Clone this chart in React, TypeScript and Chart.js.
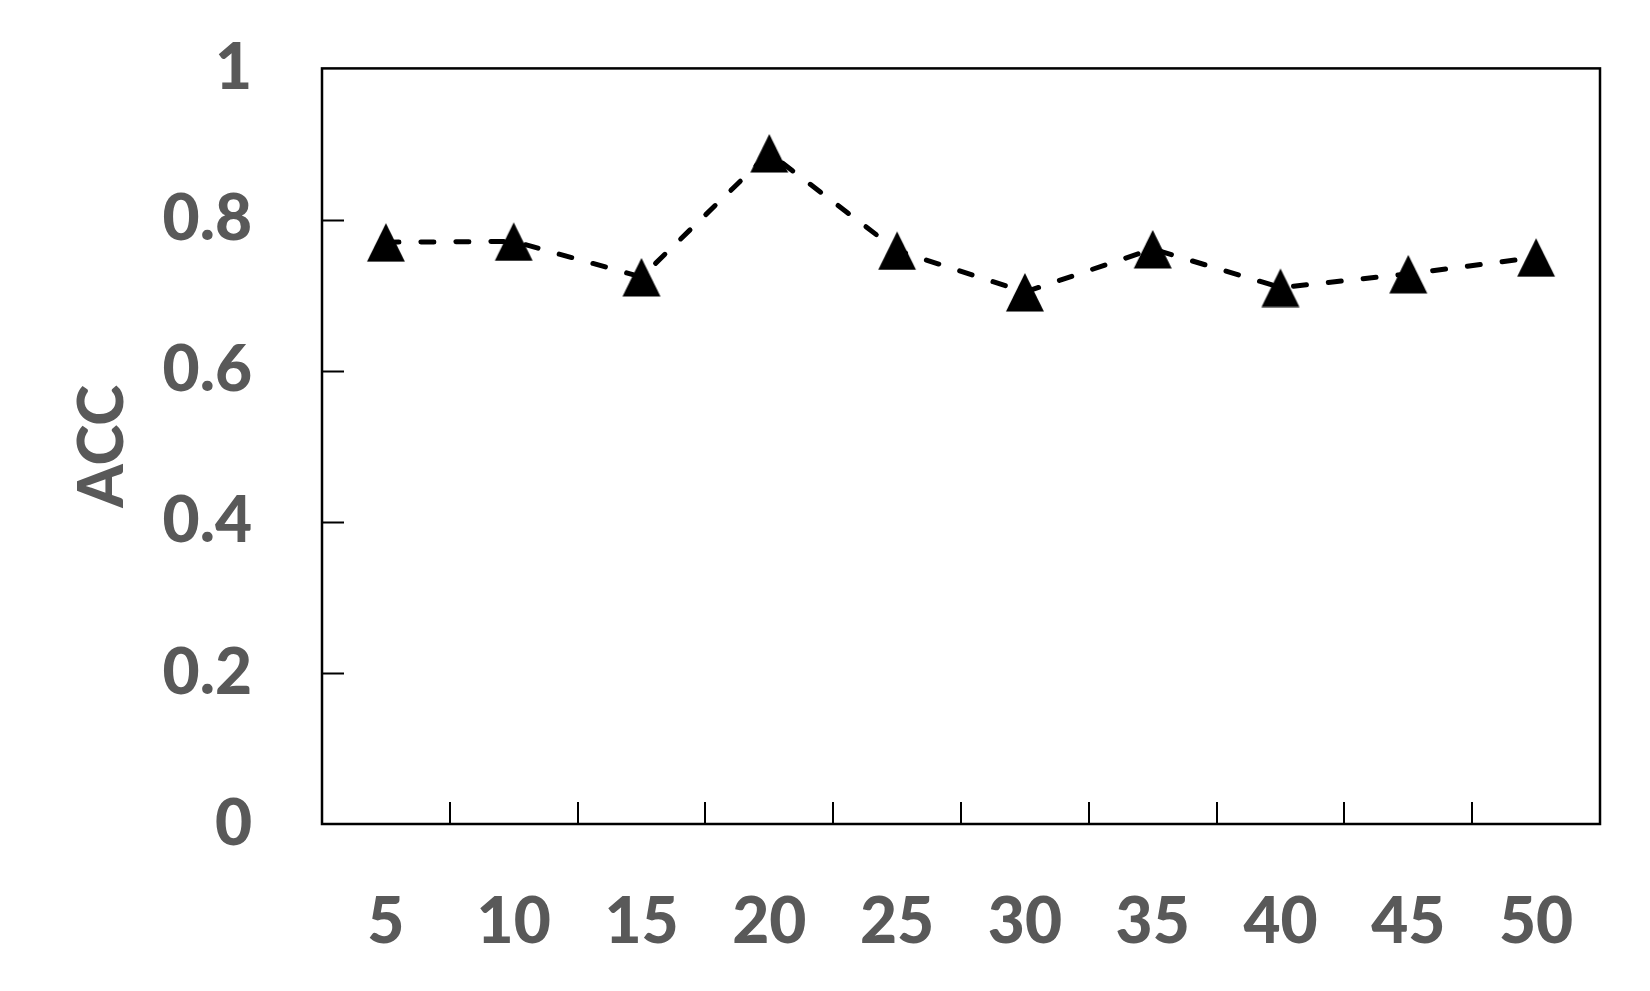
import React, { useEffect, useRef } from "react";
import { Chart, registerables } from "chart.js";

Chart.register(...registerables);

const categories = ["5", "10", "15", "20", "25", "30", "35", "40", "45", "50"];
const accValues = [0.77, 0.771, 0.724, 0.888, 0.759, 0.704, 0.761, 0.71, 0.728, 0.75];
const yTickValues = [0, 0.2, 0.4, 0.6, 0.8, 1];
const innerYTicks = [0.2, 0.4, 0.6, 0.8];

const LABEL_COLOR = "#595959";
const FONT_FAMILY = "Lato, 'Open Sans', sans-serif";

function makeTriangle(): HTMLCanvasElement {
  const c = document.createElement("canvas");
  c.width = 40;
  c.height = 40;
  const ctx = c.getContext("2d")!;
  ctx.fillStyle = "#000";
  ctx.beginPath();
  ctx.moveTo(20, 1);
  ctx.lineTo(39, 39.5);
  ctx.lineTo(1, 39.5);
  ctx.closePath();
  ctx.fill();
  return c;
}

const framePlugin = {
  id: "framePlugin",
  beforeDatasetsDraw(chart: any) {
    const { ctx, chartArea } = chart;
    const xs = chart.scales.x;
    const ys = chart.scales.y;
    ctx.save();
    ctx.strokeStyle = "#000";
    ctx.lineWidth = 2.5;
    ctx.strokeRect(chartArea.left, chartArea.top, chartArea.right - chartArea.left, chartArea.bottom - chartArea.top);
    ctx.lineWidth = 2;
    ctx.beginPath();
    for (const v of innerYTicks) {
      const y = Math.round(ys.getPixelForValue(v)) + 0.5;
      ctx.moveTo(chartArea.left, y);
      ctx.lineTo(chartArea.left + 22, y);
    }
    for (let i = 1; i < categories.length; i++) {
      const x = Math.round(xs.getPixelForValue(i - 0.5));
      ctx.moveTo(x, chartArea.bottom);
      ctx.lineTo(x, chartArea.bottom - 22);
    }
    ctx.stroke();
    ctx.restore();
  },
};

export default function App() {
  const ref = useRef<HTMLCanvasElement | null>(null);
  useEffect(() => {
    if (!ref.current) return;
    const tri = makeTriangle();
    const chart = new Chart(ref.current, {
      type: "line",
      data: {
        labels: categories,
        datasets: [
          {
            label: "ACC",
            data: accValues,
            borderColor: "#000",
            backgroundColor: "#000",
            borderWidth: 5,
            borderDash: [13, 22],
            borderCapStyle: "round",
            pointStyle: tri as any,
            pointRadius: 20,
            tension: 0,
          },
        ],
      },
      plugins: [framePlugin],
      options: {
        responsive: false,
        animation: false,
        layout: { padding: { top: 30, right: 50, left: 0, bottom: 0 } },
        plugins: { legend: { display: false }, tooltip: { enabled: false } },
        scales: {
          x: {
            type: "category",
            offset: true,
            grid: { display: false, drawTicks: false },
            border: { display: false },
            ticks: {
              color: LABEL_COLOR,
              padding: 60,
              font: { family: FONT_FAMILY, size: 64, weight: "900" },
              maxRotation: 0,
              autoSkip: false,
            },
            afterFit: (s: any) => {
              s.height = 167;
            },
          },
          y: {
            min: 0,
            max: 1,
            afterBuildTicks: (s: any) => {
              s.ticks = yTickValues.map((v) => ({ value: v }));
            },
            grid: {
              display: true,
              drawOnChartArea: false,
              drawTicks: true,
              tickLength: 40,
              color: "rgba(0,0,0,0)",
              tickColor: "rgba(0,0,0,0)",
            },
            border: { display: false },
            ticks: {
              color: LABEL_COLOR,
              padding: 30,
              font: { family: FONT_FAMILY, size: 64, weight: "900" },
              callback: (v: any) => String(Math.round(Number(v) * 10) / 10),
            },
            title: {
              display: true,
              text: "ACC",
              color: LABEL_COLOR,
              font: { family: FONT_FAMILY, size: 62, weight: "900" },
              padding: { top: 66, bottom: 0 },
            },
            afterFit: (s: any) => {
              s.width = 322;
            },
          },
        },
      },
    });
    return () => chart.destroy();
  }, []);
  return (
    <div style={{ position: "absolute", left: 0, top: 0, width: 1650, height: 991, background: "#fff" }}>
      <canvas ref={ref} width={1650} height={991} style={{ display: "block" }} />
    </div>
  );
}
